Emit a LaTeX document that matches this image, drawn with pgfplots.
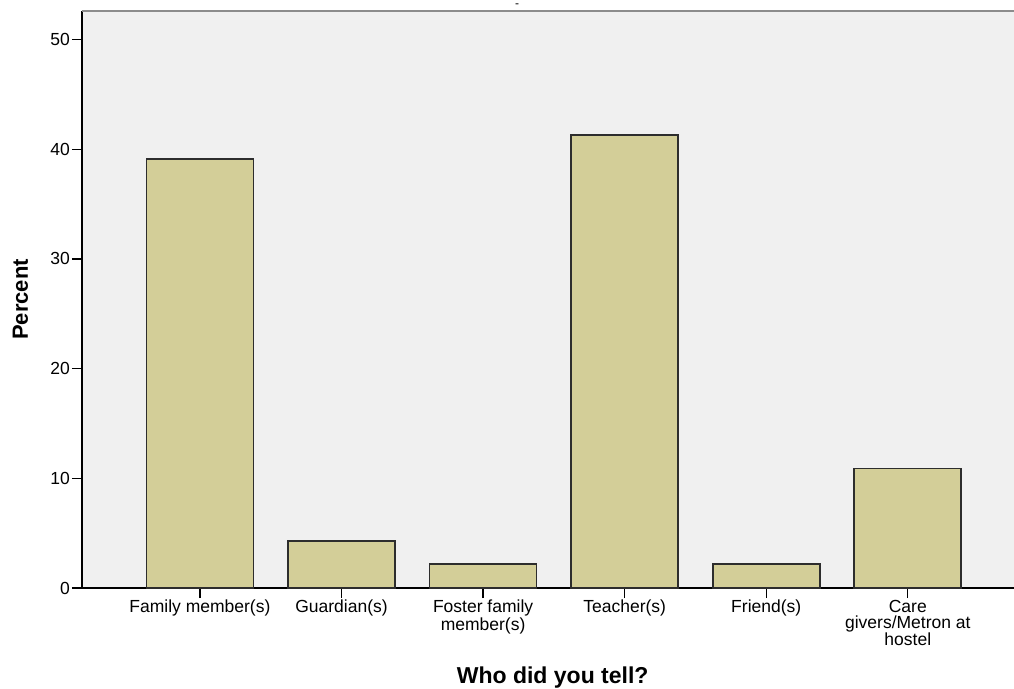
\documentclass[border=0pt]{standalone}
\usepackage{fontspec}
\setmainfont{Liberation Sans}
\usepackage{pgfplots}
\pgfplotsset{compat=1.18}
\definecolor{barfill}{RGB}{211,206,152}
\definecolor{bgcol}{RGB}{240,240,240}
\definecolor{baredge}{RGB}{45,45,45}
\definecolor{topline}{RGB}{140,140,140}
\begin{document}
\begin{tikzpicture}
\begin{axis}[
  scale only axis,
  width=932pt, height=577pt,
  xmin=-0.833, xmax=5.75,
  ymin=0, ymax=52.6,
  axis x line*=bottom, axis y line*=left,
  axis line style={black, line width=1.3pt},
  axis background/.style={fill=bgcol},
  ybar, bar width=107pt,
  xtick={0,1,2,3,4,5},
  xticklabels={Family member(s), Guardian(s), {Foster family\\member(s)}, Teacher(s), Friend(s), {Care\\givers/Metron at\\hostel}},
  xticklabel style={align=center, font=\fontsize{17.5}{16}\selectfont, inner sep=2pt, anchor=north},
  ytick={0,10,20,30,40,50},
  yticklabel style={font=\fontsize{17.5}{18}\selectfont, inner sep=2pt},
  /pgf/number format/assume math mode=true,
  tick align=outside,
  major tick length=10pt,
  tick style={black, line width=1.3pt},
  xlabel={}, ylabel={},
  clip=false,
]
\addplot[fill=barfill, draw=baredge, line width=1.8pt] coordinates {
  (0,39.1) (1,4.3) (2,2.2) (3,41.3) (4,2.2) (5,10.9)
};
\draw[topline, line width=2pt] (rel axis cs:0,1) -- (rel axis cs:1,1);
\node[font=\fontsize{12}{12}\selectfont, anchor=base, inner sep=0pt] at ([yshift=3pt]rel axis cs:0.467,1) {-};
\node[font=\fontsize{23}{24}\selectfont\bfseries, anchor=base] at ([yshift=-95pt]rel axis cs:0.505,0) {Who did you tell?};
\node[font=\fontsize{22}{24}\selectfont\bfseries, anchor=base, rotate=90] at ([xshift=-54pt]rel axis cs:0,0.5) {Percent};
\coordinate (bl) at (rel axis cs:0,0);
\end{axis}
\pgfresetboundingbox
\path[use as bounding box] (bl) ++(-82pt,-100pt) rectangle ++(1014pt,688pt);
\end{tikzpicture}
\end{document}
